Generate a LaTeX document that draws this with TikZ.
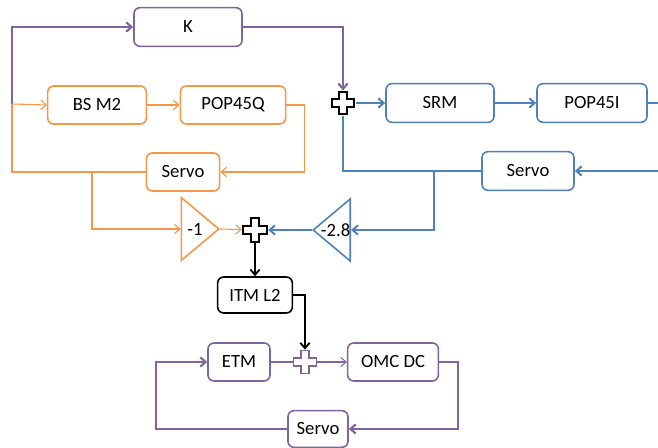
\documentclass[tikz,border=0pt]{standalone}
\usepackage{fontspec}
\setmainfont{Carlito}
\usetikzlibrary{arrows.meta,shapes.geometric}
\definecolor{purp}{HTML}{8064A2}
\definecolor{orng}{HTML}{F79646}
\definecolor{blu}{HTML}{4F81BD}
\begin{document}
\begin{tikzpicture}[
  x=0.75pt,y=-0.75pt,
  font=\fontsize{14}{16}\selectfont,
  box/.style={rectangle,draw=#1,rounded corners=4.5pt,line width=1.2pt,fill=white,minimum height=28.5pt,inner sep=0pt},
  gain/.style={isosceles triangle,isosceles triangle apex angle=80,draw=#1,line width=1.2pt,fill=white,inner sep=0pt},
  sumjunc/.style n args={3}{inner sep=0pt,minimum size=2*#1+#3,path picture={
    \draw[#2,line width=#3,fill=white,shift={(path picture bounding box.center)},x=#1,y=#1]
      (-.36,1) -- (.36,1) -- (.36,.36) -- (1,.36) -- (1,-.36) -- (.36,-.36) -- (.36,-1)
      -- (-.36,-1) -- (-.36,-.36) -- (-1,-.36) -- (-1,.36) -- (-.36,.36) -- cycle;}},
  arrow/.style={->,>={Straight Barb[length=4pt,width=7pt]}},
  pline/.style={purp,line width=1.6pt},
  pthin/.style={purp,line width=0.8pt},
  oline/.style={orng,line width=0.8pt},
  bline/.style={blu,line width=1.5pt},
  kline/.style={black,line width=1.4pt}
]
\useasboundingbox (0,0) rectangle (658,448);

% boxes
\node[box=purp,minimum width=81pt,minimum height=29pt] (k) at (188,27) {K};
\node[box=orng,minimum width=74pt] (bsm2) at (97,105) {BS M2};
\node[box=orng,minimum width=79pt] (pop45q) at (233,105) {POP45Q};
\node[box=orng,minimum width=55pt] (oservo) at (183,172) {Servo};
\node[sumjunc={8.5pt}{black}{1.4pt}] (sum1) at (343,103) {};
\node[box=blu,minimum width=81pt,minimum height=29pt] (srm) at (440,103) {SRM};
\node[box=blu,minimum width=82.5pt,minimum height=29pt] (pop45i) at (592,103) {POP45I};
\node[box=blu,minimum width=69pt,minimum height=29pt] (bservo) at (528,171) {Servo};
\node[gain=orng,anchor=apex,minimum height=28pt] (gaina) at (220,229) {-1};
\node[gain=blu,anchor=apex,shape border rotate=180] (gainb) at (312,230) {-2.8};
\node[sumjunc={9pt}{black}{1.4pt}] (sum2) at (255,230) {};
\node[box=black,minimum width=56pt,minimum height=27pt] (itm) at (255,295) {ITM L2};
\node[box=purp,minimum width=46.5pt] (etm) at (239,362) {ETM};
\node[sumjunc={8.5pt}{purp}{1.2pt}] (sum3) at (305,362) {};
\node[box=purp,minimum width=68pt] (omc) at (393,362) {OMC DC};
\node[box=purp,minimum width=45pt,minimum height=27.5pt] (pservo) at (318,429) {Servo};

\coordinate (kin) at (12,104);
\coordinate (obr) at (92,172);
\coordinate (bbr) at (434,171);
\coordinate (rtop) at (658,103);
\coordinate (rbot) at (658,171);

% purple top
\draw[pline,arrow] (kin) |- (k.west);
\draw[pline,arrow] (k.east) -| (sum1.north);
% orange loop
\draw[oline,arrow] (kin) -- (bsm2.west);
\draw[oline,arrow] (bsm2) -- (pop45q);
\draw[oline,arrow] (pop45q.east) -- ++(18,0) |- (oservo.east);
\draw[oline] (oservo.west) -| (kin);
\draw[oline,arrow] (obr) |- (gaina);
\draw[oline,arrow] (gaina.apex) -- (sum2);
% blue loop
\draw[bline,arrow] (sum1) -- (srm);
\draw[bline,arrow] (srm) -- (pop45i);
\draw[bline] (pop45i) -- (rtop);
\draw[bline,arrow] (rbot) -- (bservo);
\draw[bline] (bservo.west) -| (sum1.south);
\draw[bline,arrow] (bbr) |- (gainb);
\draw[bline,arrow] (gainb.apex) -- (sum2);
% black
\draw[kline,arrow] (sum2) -- (itm);
\draw[kline,arrow] (itm.east) -- ++(10,0) -| (sum3.north);
% purple bottom
\draw[pthin] (etm) -- (sum3);
\draw[pthin,arrow] (sum3) -- (omc);
\draw[pline,arrow] (omc.east) -- ++(19,0) |- (pservo.east);
\draw[pline,arrow] (pservo.west) -- ++(-131,0) |- (etm.west);
\end{tikzpicture}
\end{document}
